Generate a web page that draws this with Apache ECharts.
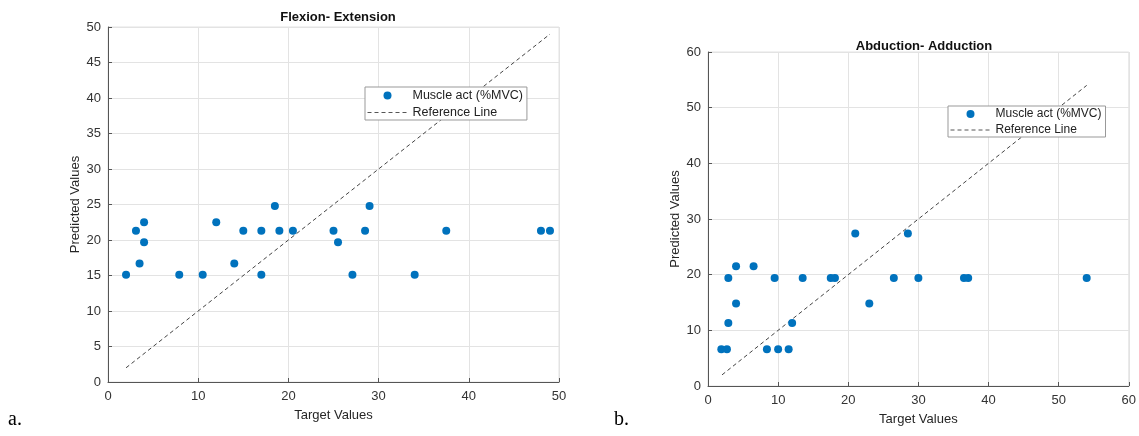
<!DOCTYPE html>
<html>
<head>
<meta charset="utf-8">
<script src="https://cdn.jsdelivr.net/npm/echarts@6/dist/echarts.min.js"></script>
<style>
html,body{margin:0;padding:0;background:#fff;}
#c{width:1139px;height:436px;}
</style>
</head>
<body>
<div id="c"></div>
<script>
// Panel a: Flexion- Extension
const flexTarget = [2, 3.1, 3.5, 4, 4, 7.9, 10.5, 12, 14, 15, 17, 17, 18.5, 19, 20.5, 25, 25.5, 27.1, 28.5, 29, 34, 37.5, 48, 49];
const flexPred   = [15.1, 21.3, 16.7, 22.5, 19.7, 15.1, 15.1, 22.5, 16.7, 21.3, 21.3, 15.1, 24.8, 21.3, 21.3, 21.3, 19.7, 15.1, 21.3, 24.8, 15.1, 21.3, 21.3, 21.3];
const flexRef    = [2, 49];

// Panel b: Abduction- Adduction
const abdTarget = [1.9, 2.7, 2.9, 2.9, 4, 4, 6.5, 8.4, 9.5, 10, 11.5, 12, 13.5, 17.5, 18.1, 21, 23, 26.5, 28.5, 30, 36.5, 37.1, 54];
const abdPred   = [6.6, 6.6, 11.3, 19.4, 21.5, 14.8, 21.5, 6.6, 19.4, 6.6, 6.6, 11.3, 19.4, 19.4, 19.4, 27.4, 14.8, 19.4, 27.4, 19.4, 19.4, 19.4, 19.4];
const abdRef    = [2, 54];

const titles = ['Flexion- Extension', 'Abduction- Adduction'];
const xName = 'Target Values';
const yName = 'Predicted Values';
const seriesNames = ['Muscle act (%MVC)', 'Reference Line'];

const pts = (xs, ys) => xs.map((x, i) => [x, ys[i]]);
const refPts = r => r.map(v => [v, v]);

const blue = '#0072BD';
const axisCol = '#555';
const gridCol = '#e3e3e3';
const font = 'Liberation Sans, Arial, sans-serif';

function xAxis(idx, max, interval) {
  return {
    type: 'value', gridIndex: idx, min: 0, max: max, interval: interval,
    name: xName, nameLocation: 'middle', nameGap: 27,
    nameTextStyle: {fontFamily: font, fontSize: 13, color: '#262626'},
    axisLine: {show: true, onZero: false, lineStyle: {color: axisCol, width: 1}},
    axisTick: {show: true, inside: true, length: 4, lineStyle: {color: axisCol}},
    axisLabel: {fontFamily: font, fontSize: 13, color: '#333', margin: 8},
    splitLine: {show: true, lineStyle: {color: gridCol, width: 1}}
  };
}
function yAxis(idx, max, interval) {
  return {
    type: 'value', gridIndex: idx, min: 0, max: max, interval: interval,
    name: yName, nameLocation: 'middle', nameGap: 26,
    nameTextStyle: {fontFamily: font, fontSize: 13, color: '#262626'},
    axisLine: {show: true, onZero: false, lineStyle: {color: axisCol, width: 1}},
    axisTick: {show: true, inside: true, length: 4, lineStyle: {color: axisCol}},
    axisLabel: {fontFamily: font, fontSize: 13, color: '#333', margin: 7},
    splitLine: {show: true, lineStyle: {color: gridCol, width: 1}}
  };
}
function legend(left, top, fs) {
  return {
    left: left, top: top, orient: 'vertical',
    data: [
      {name: seriesNames[0], icon: 'circle', itemStyle: {color: blue, opacity: 1}},
      {name: seriesNames[1], itemStyle: {color: 'rgba(0,0,0,0)', borderWidth: 0, opacity: 0},
       lineStyle: {color: '#555', width: 1, type: [4, 3]}}
    ],
    itemWidth: 40, itemHeight: 8, itemGap: 4,
    padding: [2, 4, 1, 2],
    backgroundColor: '#fff', borderColor: '#999', borderWidth: 1, borderRadius: 0,
    textStyle: {fontFamily: font, fontSize: fs, color: '#222'},
    selectedMode: false
  };
}

const chart = echarts.init(document.getElementById('c'), null, {renderer: 'canvas'});
chart.setOption({
  animation: false,
  backgroundColor: '#fff',
  title: [
    {text: titles[0], left: 333, top: 6, textAlign: 'center',
     textStyle: {fontFamily: font, fontSize: 13, fontWeight: 'bold', color: '#111'}},
    {text: titles[1], left: 919, top: 35, textAlign: 'center',
     textStyle: {fontFamily: font, fontSize: 13, fontWeight: 'bold', color: '#111'}}
  ],
  grid: [
    {left: 108, top: 27, width: 451, height: 355, show: true, borderColor: gridCol, borderWidth: 1, containLabel: false},
    {left: 708, top: 52, width: 422, height: 334, show: true, borderColor: gridCol, borderWidth: 1, containLabel: false}
  ],
  xAxis: [xAxis(0, 50, 10), xAxis(1, 60, 10)],
  yAxis: [yAxis(0, 50, 5), yAxis(1, 60, 10)],
  legend: [legend(365, 87, 12.5), legend(948, 106, 12)],
  series: [
    {name: seriesNames[0], type: 'scatter', xAxisIndex: 0, yAxisIndex: 0, symbol: 'circle', symbolSize: 8,
     itemStyle: {color: blue, opacity: 1}, data: pts(flexTarget, flexPred), z: 3},
    {name: seriesNames[1], type: 'line', xAxisIndex: 0, yAxisIndex: 0, symbol: 'none', showSymbol: false,
     lineStyle: {color: '#444', width: 1, type: [4, 3]}, data: refPts(flexRef), z: 2},
    {name: seriesNames[0], type: 'scatter', xAxisIndex: 1, yAxisIndex: 1, symbol: 'circle', symbolSize: 8,
     itemStyle: {color: blue, opacity: 1}, data: pts(abdTarget, abdPred), z: 3},
    {name: seriesNames[1], type: 'line', xAxisIndex: 1, yAxisIndex: 1, symbol: 'none', showSymbol: false,
     lineStyle: {color: '#444', width: 1, type: [4, 3]}, data: refPts(abdRef), z: 2}
  ],
  graphic: [
    {type: 'text', left: 8, top: 410, style: {text: 'a.', font: '20px "Liberation Serif", "Times New Roman", serif', fill: '#000'}},
    {type: 'text', left: 614, top: 410, style: {text: 'b.', font: '20px "Liberation Serif", "Times New Roman", serif', fill: '#000'}}
  ]
});
</script>
</body>
</html>
